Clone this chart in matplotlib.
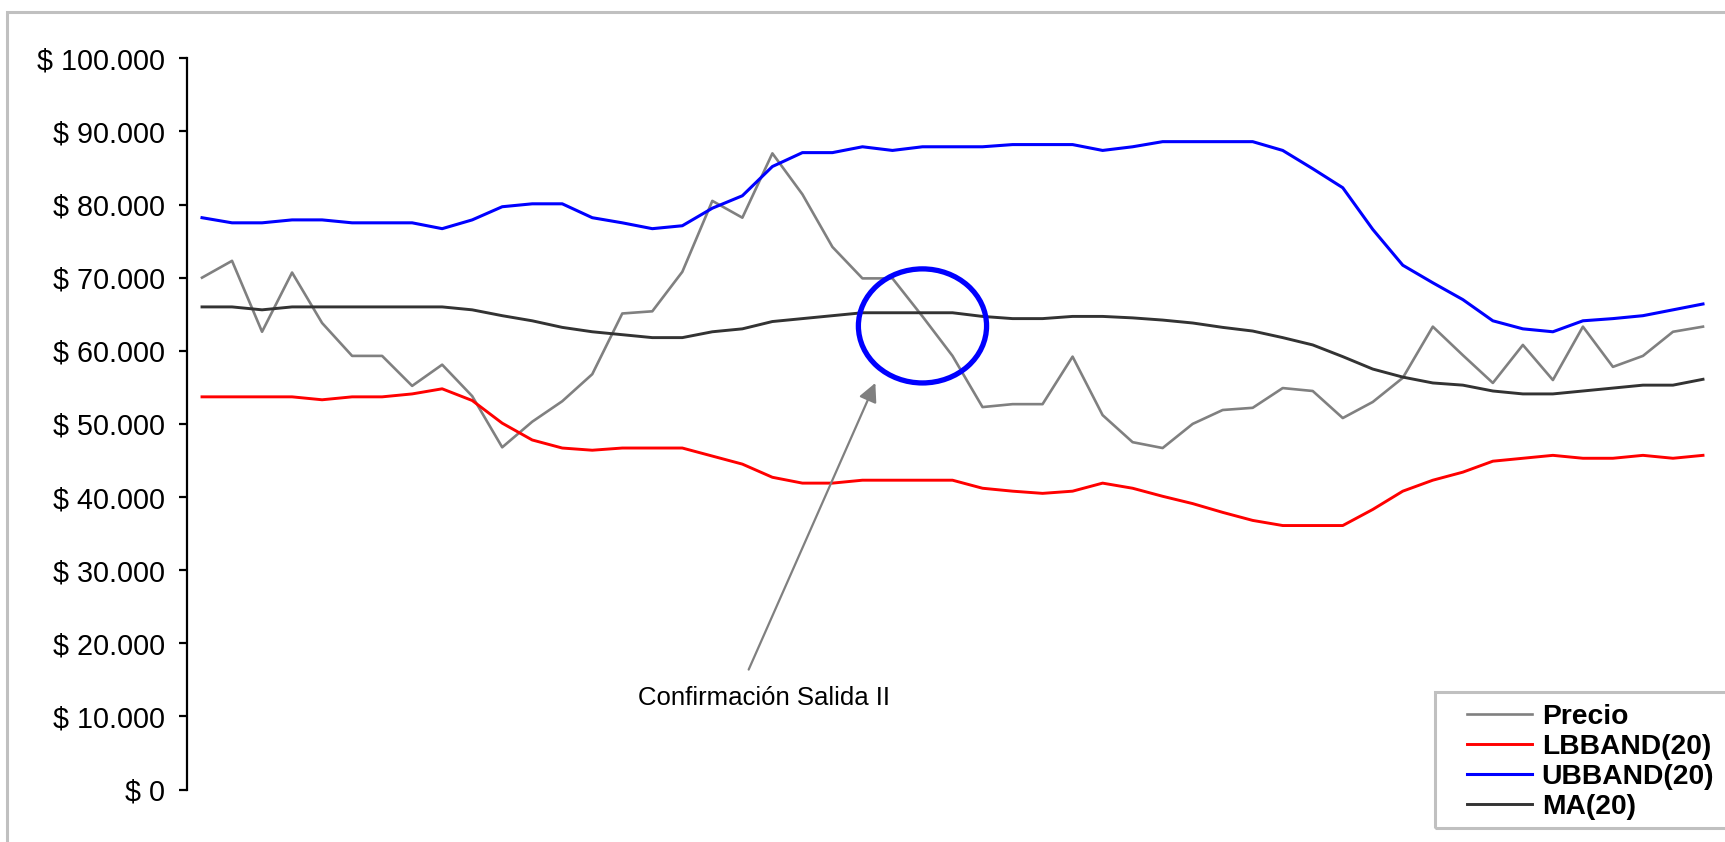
import matplotlib
matplotlib.use("Agg")
import matplotlib.pyplot as plt
from matplotlib.patches import Ellipse, Rectangle
from matplotlib.ticker import FuncFormatter, MultipleLocator

plt.rcParams['font.family'] = ['Liberation Sans', 'DejaVu Sans']

# --- data (in thousands of $) ---
precio = [70.0, 72.3, 62.6, 70.7, 63.8, 59.3, 59.3, 55.2, 58.1, 53.8,
          46.8, 50.3, 53.1, 56.8, 65.1, 65.4, 70.8, 80.5, 78.2, 87.0,
          81.4, 74.2, 69.9, 69.9, 64.7, 59.3, 52.3, 52.7, 52.7, 59.2,
          51.2, 47.5, 46.7, 50.0, 51.9, 52.2, 54.9, 54.5, 50.8, 53.0,
          56.3, 63.3, 59.4, 55.6, 60.8, 56.0, 63.3, 57.8, 59.3, 62.6, 63.3]
lbband = [53.7, 53.7, 53.7, 53.7, 53.3, 53.7, 53.7, 54.1, 54.8, 53.2,
          50.1, 47.8, 46.7, 46.4, 46.7, 46.7, 46.7, 45.6, 44.5, 42.7,
          41.9, 41.9, 42.3, 42.3, 42.3, 42.3, 41.2, 40.8, 40.5, 40.8,
          41.9, 41.2, 40.1, 39.1, 37.9, 36.8, 36.1, 36.1, 36.1, 38.3,
          40.8, 42.3, 43.4, 44.9, 45.3, 45.7, 45.3, 45.3, 45.7, 45.3, 45.7]
ubband = [78.2, 77.5, 77.5, 77.9, 77.9, 77.5, 77.5, 77.5, 76.7, 77.9,
          79.7, 80.1, 80.1, 78.2, 77.5, 76.7, 77.1, 79.5, 81.2, 85.2,
          87.1, 87.1, 87.9, 87.4, 87.9, 87.9, 87.9, 88.2, 88.2, 88.2,
          87.4, 87.9, 88.6, 88.6, 88.6, 88.6, 87.4, 84.9, 82.3, 76.6,
          71.7, 69.3, 67.0, 64.1, 63.0, 62.6, 64.1, 64.4, 64.8, 65.6, 66.4]
ma20 = [66.0, 66.0, 65.6, 66.0, 66.0, 66.0, 66.0, 66.0, 66.0, 65.6,
        64.8, 64.1, 63.2, 62.6, 62.2, 61.8, 61.8, 62.6, 63.0, 64.0,
        64.4, 64.8, 65.2, 65.2, 65.2, 65.2, 64.7, 64.4, 64.4, 64.7,
        64.7, 64.5, 64.2, 63.8, 63.2, 62.7, 61.8, 60.8, 59.2, 57.5,
        56.4, 55.6, 55.3, 54.5, 54.1, 54.1, 54.5, 54.9, 55.3, 55.3, 56.1]

series_names = ['Precio', 'LBBAND(20)', 'UBBAND(20)', 'MA(20)']
series_colors = ['#808080', '#ff0000', '#0000ff', '#333333']
series_lw = [1.9, 2.1, 2.2, 2.1]

note_text = 'Confirmación Salida II'

x = list(range(len(precio)))

fig = plt.figure(figsize=(17.25, 8.42), dpi=100)
W, H = 1725, 842
ax = fig.add_axes([187 / W, (H - 789.5) / H, 1531 / W, (789.5 - 58.3) / H])

for vals, name, col, lw in zip([precio, lbband, ubband, ma20], series_names,
                               series_colors, series_lw):
    ax.plot(x, [v * 1000 for v in vals], color=col, lw=lw, label=name)

ax.set_xlim(-0.5, len(x) - 0.5)
ax.set_ylim(0, 100000)
ax.yaxis.set_major_locator(MultipleLocator(10000))


def peso(v, _):
    if v == 0:
        return '$ 0'
    return '$ ' + f'{int(round(v)):,}'.replace(',', '.')


ax.yaxis.set_major_formatter(FuncFormatter(peso))
ax.tick_params(axis='y', direction='out', length=6, width=1.6, labelsize=20.7, pad=10)
ax.set_xticks([])
for s in ['top', 'right', 'bottom']:
    ax.spines[s].set_visible(False)
ax.spines['left'].set_linewidth(1.6)

# circle marking the exit confirmation
ax.add_patch(Ellipse((24.0, 63400), width=4.27, height=15600, fill=False,
                     edgecolor='#0000ff', lw=3.8, zorder=5))

# arrow + note
ax.annotate('', xy=(22.43, 55600), xytext=(18.21, 16400),
            arrowprops=dict(arrowstyle='-|>', color='#808080', lw=1.6,
                            mutation_scale=28, shrinkA=0, shrinkB=0))
ax.text(18.72, 12570, note_text, ha='center', va='center', fontsize=18.5)

# legend
fig.legend(loc='upper left', bbox_to_anchor=(1467 / W, (H - 704) / H),
           bbox_transform=fig.transFigure, frameon=False, borderpad=0,
           borderaxespad=0, handlelength=2.3, handletextpad=0.35,
           labelspacing=0.14, prop=dict(weight='bold', size=20.3))
fig.add_artist(Rectangle((1435 / W, 14 / H), (1780 - 1435) / W, 136 / H,
                         transform=fig.transFigure, fill=False,
                         edgecolor='#c0c0c0', lw=2.2))

# chart area border
fig.add_artist(Rectangle((7 / W, -0.05), 1.1, (H - 12) / H + 0.05,
                         transform=fig.transFigure, fill=False,
                         edgecolor='#c0c0c0', lw=2.2))

fig.savefig('out.png', dpi=100)
